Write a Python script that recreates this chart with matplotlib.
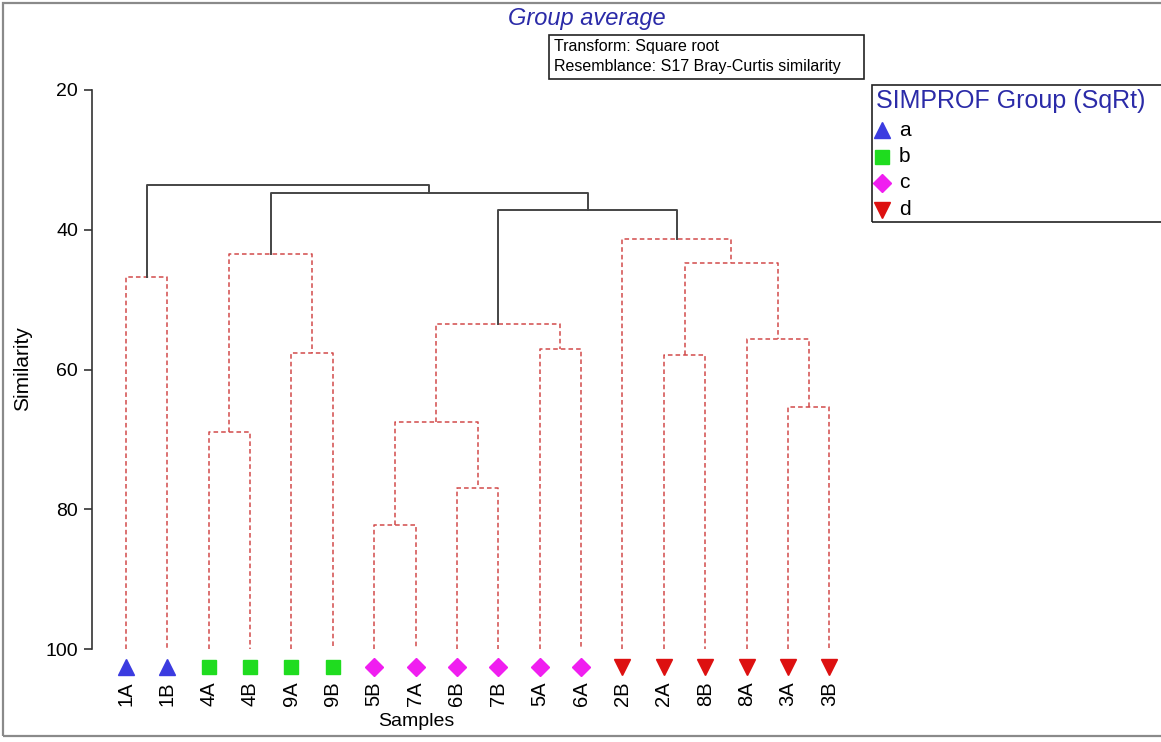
import matplotlib
matplotlib.use("Agg")
import matplotlib.pyplot as plt
from matplotlib.patches import Rectangle
from matplotlib.lines import Line2D

plt.rcParams['font.family'] = ['Liberation Sans', 'DejaVu Sans']

# Samples in dendrogram order and their SIMPROF groups
samples = ["1A", "1B", "4A", "4B", "9A", "9B", "5B", "7A", "6B", "7B",
           "5A", "6A", "2B", "2A", "8B", "8A", "3A", "3B"]
sample_group = ["a", "a", "b", "b", "b", "b", "c", "c", "c", "c",
                "c", "c", "d", "d", "d", "d", "d", "d"]

# Linkage: node ids 0..17 are samples, each merge creates node 18, 19, ...
merge_left = [0, 2, 4, 19, 6, 8, 22, 10, 24, 13, 16, 15, 27, 12, 26, 21, 18]
merge_right = [1, 3, 5, 20, 7, 9, 23, 11, 25, 14, 17, 28, 29, 30, 31, 32, 33]
merge_sim = [46.8, 68.9, 57.7, 43.4, 82.3, 77.0, 67.5, 57.1, 53.5,
             57.9, 65.3, 55.7, 44.7, 41.3, 37.2, 34.8, 33.6]
# True = merge inside a SIMPROF group (red dashed), False = between groups
merge_within = [True] * 14 + [False] * 3

group_names = ["a", "b", "c", "d"]
group_colors = ["#3b3be0", "#1fdc1f", "#f01ef0", "#dd1010"]
group_markers = ["^", "s", "D", "v"]
group_msize = [12, 10, 9, 12]

yticks = [20, 40, 60, 80, 100]

W, H = 1161, 742
fig = plt.figure(figsize=(W / 100, H / 100), dpi=100)


def fx(x):
    return x / W


def fy(y):
    return 1 - y / H


ax = fig.add_axes([fx(92), fy(677), fx(850) - fx(92), fy(90) - fy(677)])

# node positions
node_x = {i: float(i) for i in range(len(samples))}
node_y = {i: 100.0 for i in range(len(samples))}

red = "#d24a4a"
dark = "#454545"
for k, (l, r, s, w) in enumerate(zip(merge_left, merge_right, merge_sim, merge_within)):
    nid = len(samples) + k
    xl, xr = node_x[l], node_x[r]
    if w:
        kw = dict(color=red, lw=1.1, ls=(0, (3, 2)))
    else:
        kw = dict(color=dark, lw=1.4, ls="-")
    ax.plot([xl, xl, xr, xr], [node_y[l], s, s, node_y[r]], **kw)
    node_x[nid] = (xl + xr) / 2
    node_y[nid] = s

# sample symbols under the leaves
for g, c, m, ms in zip(group_names, group_colors, group_markers, group_msize):
    xs = [i for i, sg in enumerate(sample_group) if sg == g]
    ax.plot(xs, [102.6] * len(xs), ls="none", marker=m, ms=ms,
            color=c, mec=c, clip_on=False)

ax.set_xlim(-0.822, 17.5)
ax.set_ylim(104, 20)
ax.set_yticks(yticks)
ax.tick_params(axis="y", labelsize=14, length=6, width=1.2, pad=4, color="#333")
ax.set_xticks(range(len(samples)))
ax.set_xticklabels(samples, rotation=90, fontsize=14.5)
ax.tick_params(axis="x", length=0, pad=3)
for side in ["top", "right", "bottom"]:
    ax.spines[side].set_visible(False)
ax.spines["left"].set_bounds(20, 100)
ax.spines["left"].set_color("#333")
ax.spines["left"].set_linewidth(1.2)

fig.text(fx(416), fy(721), "Samples", fontsize=14, ha="center", va="center")
fig.text(fx(23), fy(369), "Similarity", fontsize=15, rotation=90,
         ha="center", va="center")

# title and info box
fig.text(fx(587), fy(19), "Group average", fontsize=17, style="italic",
         color="#2b2ba8", ha="center", va="center")
fig.add_artist(Rectangle((fx(549), fy(79)), fx(864) - fx(549), fy(35) - fy(79),
                         transform=fig.transFigure, fill=False,
                         ec="#222", lw=1.2))
fig.text(fx(554), fy(46), "Transform: Square root", fontsize=11.5,
         ha="left", va="center")
fig.text(fx(554), fy(67), "Resemblance: S17 Bray-Curtis similarity",
         fontsize=11.5, ha="left", va="center")

# legend box
fig.add_artist(Rectangle((fx(872), fy(222)), fx(1170) - fx(872), fy(85) - fy(222),
                         transform=fig.transFigure, fill=False,
                         ec="#222", lw=1.2))
fig.text(fx(876), fy(101), "SIMPROF Group (SqRt)", fontsize=18,
         color="#2b2ba8", ha="left", va="center")
for i, (g, c, m, ms) in enumerate(zip(group_names, group_colors, group_markers, group_msize)):
    yy = 130 + i * 26.5
    fig.add_artist(Line2D([fx(882)], [fy(yy)], transform=fig.transFigure,
                          ls="none", marker=m, ms=ms, color=c, mec=c))
    fig.text(fx(899), fy(yy), g, fontsize=15, ha="left", va="center")

# outer frame
fig.add_artist(Rectangle((fx(2.5), fy(736)), fx(1170) - fx(2.5), fy(2.5) - fy(736),
                         transform=fig.transFigure, fill=False,
                         ec="#8a8a8a", lw=1.6))

fig.savefig("out.png", dpi=100)
